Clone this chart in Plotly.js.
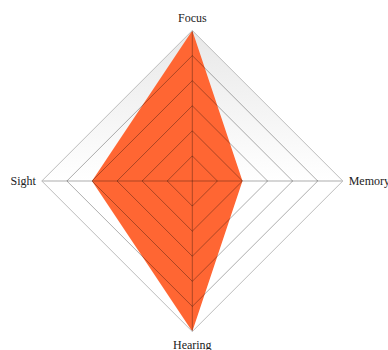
<!DOCTYPE html>
<html>
<head>
<meta charset="utf-8">
<script src="https://cdn.plot.ly/plotly-3.0.1.min.js"></script>
<style>html,body{margin:0;padding:0;background:#fff;}#chart{width:388px;height:350px;}</style>
</head>
<body>
<div id="chart"></div>
<script>
// Data
var categories = ["Focus", "Memory", "Hearing", "Sight"];
var values = [6, 2, 6, 4];
var radialMax = 6;

// Layout geometry
var W = 388, H = 350;
var cx = 192.3, cy = 181, R = 150.5;
var dx0 = (cx - R) / W, dx1 = (cx + R) / W;
var dy0 = (H - (cy + R)) / H, dy1 = (H - (cy - R)) / H;

var gradSvg = '<svg xmlns="http://www.w3.org/2000/svg" viewBox="0 0 100 100" preserveAspectRatio="none">' +
  '<defs><linearGradient id="g" x1="0" y1="0" x2="0" y2="1">' +
  '<stop offset="0" stop-color="#e8e8e8"/><stop offset="0.5" stop-color="#ffffff"/><stop offset="1" stop-color="#ffffff"/>' +
  '</linearGradient></defs>' +
  '<polygon points="50,0 100,50 50,100 0,50" fill="url(#g)"/></svg>';
var gradUri = 'data:image/svg+xml;charset=utf-8,' + encodeURIComponent(gradSvg);

var rClosed = values.concat([values[0]]);
var thetaClosed = categories.concat([categories[0]]);

var data = [
  {
    type: 'scatterpolar',
    r: rClosed,
    theta: thetaClosed,
    mode: 'none',
    fill: 'toself',
    fillcolor: '#ff6633',
    hoverinfo: 'skip',
    subplot: 'polar'
  },
  {
    type: 'scatterpolar',
    r: rClosed,
    theta: thetaClosed,
    mode: 'lines',
    line: {width: 0, color: 'rgba(0,0,0,0)'},
    hoverinfo: 'skip',
    subplot: 'polar2'
  }
];

function radial(showGrid) {
  return {
    range: [0, radialMax],
    dtick: 1,
    showticklabels: false,
    ticks: '',
    showline: false,
    showgrid: showGrid,
    gridcolor: 'rgba(0,0,0,0.32)',
    gridwidth: 1
  };
}

function angular(showLabels, showGrid, showLine) {
  return {
    type: 'category',
    categoryarray: categories,
    rotation: 90,
    direction: 'clockwise',
    showticklabels: showLabels,
    ticks: showLabels ? 'outside' : '',
    ticklen: 3,
    tickcolor: 'rgba(0,0,0,0)',
    showgrid: showGrid,
    gridcolor: 'rgba(0,0,0,0.32)',
    showline: showLine,
    linecolor: '#bdbdbd',
    linewidth: 1,
    tickfont: {family: 'Liberation Serif, Times New Roman, serif', size: 12, color: '#222'}
  };
}

var layout = {
  width: W,
  height: H,
  margin: {l: 0, r: 0, t: 0, b: 0},
  paper_bgcolor: '#ffffff',
  showlegend: false,
  images: [{
    source: gradUri,
    xref: 'paper', yref: 'paper',
    x: dx0, y: dy1,
    sizex: dx1 - dx0, sizey: dy1 - dy0,
    xanchor: 'left', yanchor: 'top',
    sizing: 'stretch',
    layer: 'below'
  }],
  polar: {
    domain: {x: [dx0, dx1], y: [dy0, dy1]},
    gridshape: 'linear',
    bgcolor: 'rgba(0,0,0,0)',
    radialaxis: radial(false),
    angularaxis: angular(true, false, false)
  },
  polar2: {
    domain: {x: [dx0, dx1], y: [dy0, dy1]},
    gridshape: 'linear',
    bgcolor: 'rgba(0,0,0,0)',
    radialaxis: radial(true),
    angularaxis: angular(false, true, true)
  }
};

Plotly.newPlot('chart', data, layout, {displayModeBar: false, staticPlot: true});
</script>
</body>
</html>
